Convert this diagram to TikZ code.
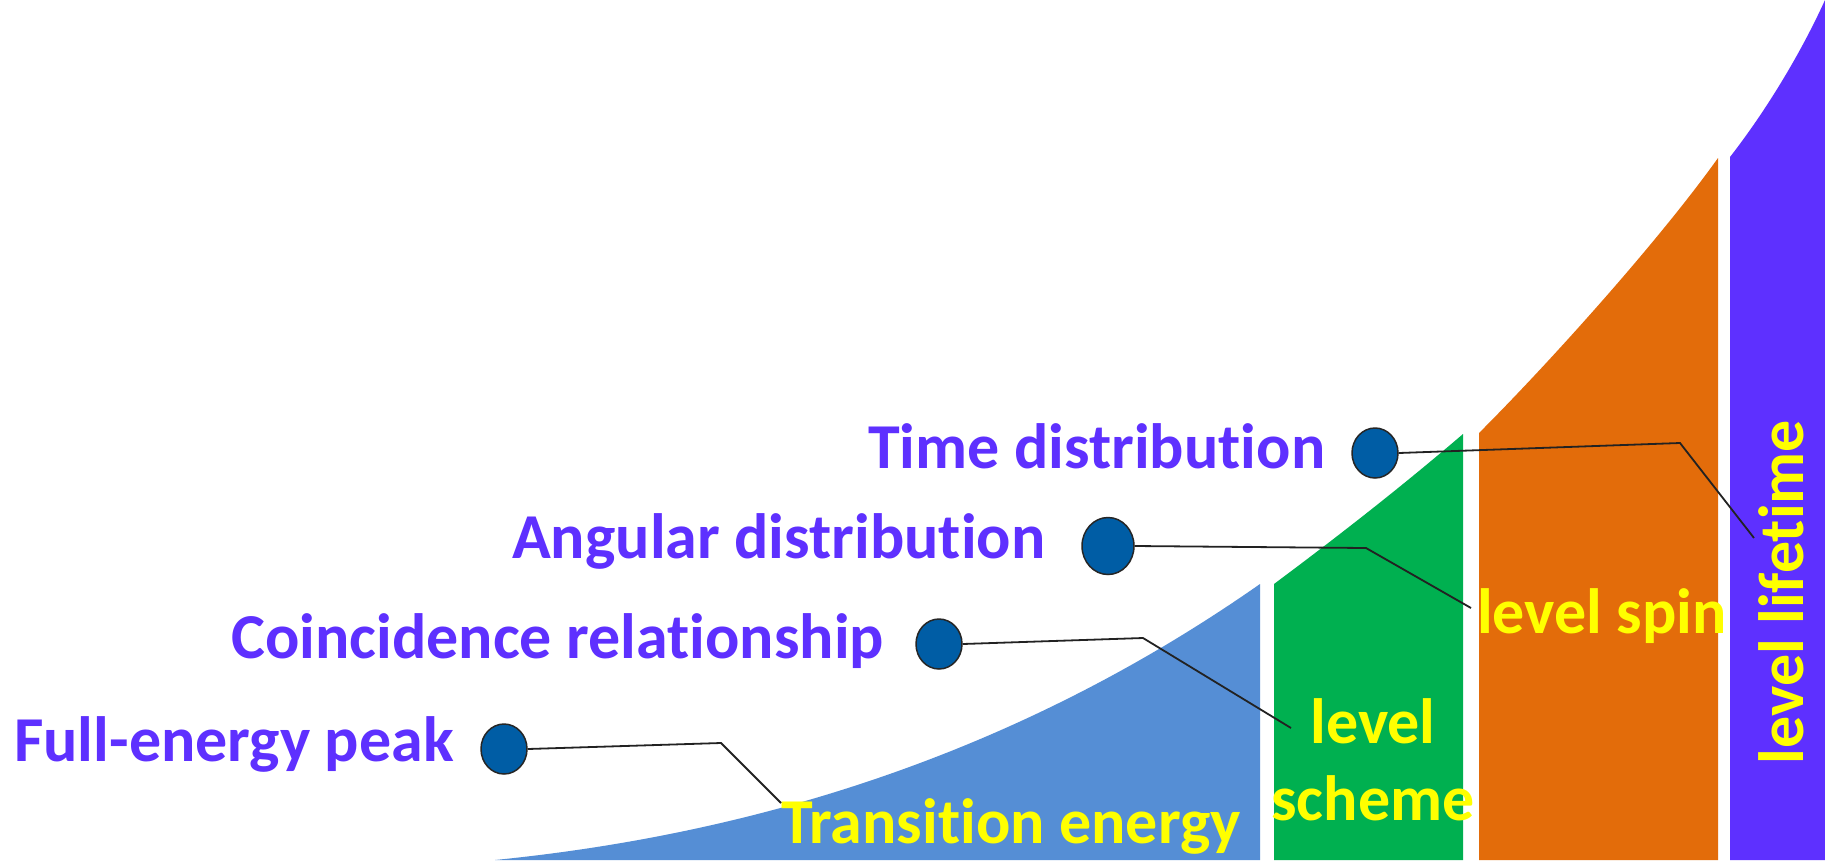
\documentclass[tikz,border=0pt]{standalone}
\usepackage{fontspec}
\setmainfont{Carlito}[Ligatures={NoCommon,NoRequired,NoContextual}]
\usetikzlibrary{shapes.geometric}
\definecolor{barblue}{HTML}{558ED5}
\definecolor{bargreen}{HTML}{00B050}
\definecolor{barorange}{HTML}{E36C0A}
\definecolor{barviolet}{HTML}{5E30FF}
\definecolor{tagyellow}{HTML}{FFFF00}
\definecolor{dotblue}{HTML}{005DA5}
\definecolor{dotrim}{HTML}{262626}
\definecolor{leadgray}{HTML}{222222}
\begin{document}
\begin{tikzpicture}[x=1pt,y=-1pt,
  method/.style={font=\bfseries\fontsize{64}{77}\selectfont, text=barviolet, inner sep=0pt},
  tag/.style={font=\bfseries\fontsize{64}{77}\selectfont, text=tagyellow, inner sep=0pt},
  dot/.style={ellipse, draw=dotrim, fill=dotblue, line width=1.5pt, minimum width=46pt, minimum height=50pt, inner sep=0pt},
  leader/.style={draw=leadgray, line width=1.8pt}]
\useasboundingbox (0,0) rectangle (1825,860);
\fill[white] (0,0) rectangle (1825,860);

% rising bars under one growing curve
\fill[barblue] (495,860) .. controls (745,835) and (1010,759) .. (1260,584) -- (1260,860) -- cycle;
\fill[bargreen] (1274,860) -- (1274,584) .. controls (1337,537) and (1400,488) .. (1463,434) -- (1463,860) -- cycle;
\fill[barorange] (1479,860) -- (1479,433) .. controls (1549,363) and (1658,242) .. (1718,158) -- (1718,860) -- cycle;
\fill[barviolet] (1730,860) -- (1730,157) .. controls (1765,112) and (1800,55) .. (1825,0) -- (1825,860) -- cycle;

% measured quantities
\node[method, anchor=base west] (fep) at (14,761) {Full-energy peak};
\node[method, anchor=base west] (coin) at (231,658) {Coincidence relationship};
\node[method, anchor=base west] (ang) at (512,558) {Angular distribution};
\node[method, anchor=base west] (time) at (868,468) {Time distribution};

% derived level properties
\node[tag, anchor=base west] (trans) at (781,843) {Transition energy};
\node[tag, align=center, anchor=base] (scheme) at (1373,820) {level\\scheme};
\node[tag, anchor=base west] (spin) at (1477,633) {level spin};
\node[tag, rotate=90, anchor=base] (life) at (1803,592) {level lifetime};

% markers
\node[dot] (dFE) at (504,749) {};
\node[dot] (dCO) at (939,644) {};
\node[dot, minimum width=52pt, minimum height=57pt] (dAN) at (1108,546) {};
\node[dot] (dTI) at (1375,453) {};

% leader lines
\coordinate (feBend) at (721,743);
\coordinate (feEnd) at (781,803);
\coordinate (coBend) at (1143,638);
\coordinate (coEnd) at (1291,728);
\coordinate (anBend) at (1366,548);
\coordinate (anEnd) at (1471,608);
\coordinate (tiBend) at (1680,443);
\coordinate (tiEnd) at (1754,538);
\draw[leader] (dFE.east) -- (feBend) -- (feEnd);
\draw[leader] (dCO.east) -- (coBend) -- (coEnd);
\draw[leader] (dAN.east) -- (anBend) -- (anEnd);
\draw[leader] (dTI.east) -- (tiBend) -- (tiEnd);
\end{tikzpicture}
\end{document}
